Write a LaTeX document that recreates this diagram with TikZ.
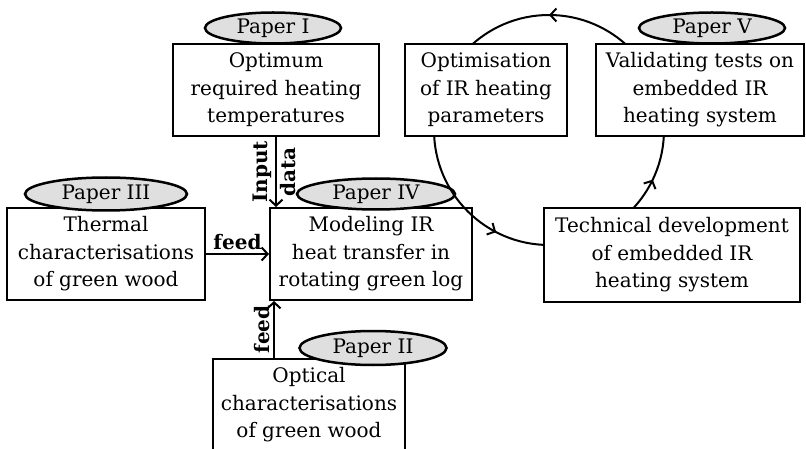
\documentclass[tikz,border=0pt]{standalone}
\usepackage{fontspec}
\setmainfont{DejaVu Serif}
\usetikzlibrary{arrows.meta,decorations.markings,shapes.geometric}
\tikzset{mytip/.tip={Straight Barb[length=6pt,width=13pt]}}
\begin{document}
\begin{tikzpicture}[x=1pt,y=-1pt,
  box/.style={draw, line width=2pt, fill=white, rectangle, align=center, inner sep=0pt, font=\fontsize{20}{27.5}\selectfont},
  paper/.style={draw, ellipse, line width=2.5pt, fill=gray!25, inner sep=0pt, font=\fontsize{20}{22}\selectfont},
  arr/.style={line width=2pt, -mytip},
  lab/.style={font=\bfseries\fontsize{20}{22}\selectfont, inner sep=3pt}]
\useasboundingbox (0,0) rectangle (806,449);
\clip (0,0) rectangle (806,449);
% left part
\node[box, minimum width=198pt, minimum height=92pt] (b3) at (106,254) {Thermal\\characterisations\\of green wood};
\node[box, minimum width=202pt, minimum height=92pt] (b4) at (371,254) {Modeling IR\\heat transfer in\\rotating green log};
\node[box, minimum width=206pt, minimum height=92pt] (b1) at (276,90) {Optimum\\required heating\\temperatures};
\node[box, minimum width=192pt, minimum height=92pt] (b2) at (309,405) {Optical\\characterisations\\of green wood};
% connectors
\draw[arr] (b1.south) -- (b1.south |- b4.north)
  node[midway, rotate=90, anchor=south, lab] {Input}
  node[midway, rotate=90, anchor=north, lab] {data};
\draw[arr] (b3.east) -- (b4.west) node[midway, anchor=south, lab] {feed};
\coordinate (f2) at ([xshift=5pt]b4.south west);
\draw[arr] (f2 |- b2.north) -- (f2) node[midway, rotate=90, anchor=south, lab] {feed};
% paper ellipses
\node[paper, minimum width=136pt, minimum height=31pt] (p1) at (273,28) {Paper I};
\node[paper, minimum width=162pt, minimum height=33pt] (p3) at (106,194) {Paper III};
\node[paper, minimum width=158pt, minimum height=31pt] (p4) at (376,194) {Paper IV};
\node[paper, minimum width=147pt, minimum height=34pt] (p2) at (373,348) {Paper II};
% cycle
\coordinate (C) at (549,130);
\draw[line width=2pt, postaction={decorate},
  decoration={markings,
    mark=at position 0.25 with {\arrow{mytip}},
    mark=at position 0.674 with {\arrow{mytip}},
    mark=at position 0.929 with {\arrow{mytip}}}]
  (C) ++(115,0) arc[start angle=360, end angle=0, radius=115];
% right part
\node[box, minimum width=162pt, minimum height=92pt] (b6) at (486,90) {Optimisation\\of IR heating\\parameters};
\node[box, minimum width=208pt, minimum height=92pt] (b5) at (700,90) {Validating tests on\\embedded IR\\heating system};
\node[box, minimum width=256pt, minimum height=94pt] (b7) at (672,255) {Technical development\\of embedded IR\\heating system};
\node[paper, minimum width=146pt, minimum height=31pt] (p5) at (712,28) {Paper V};
\end{tikzpicture}
\end{document}
